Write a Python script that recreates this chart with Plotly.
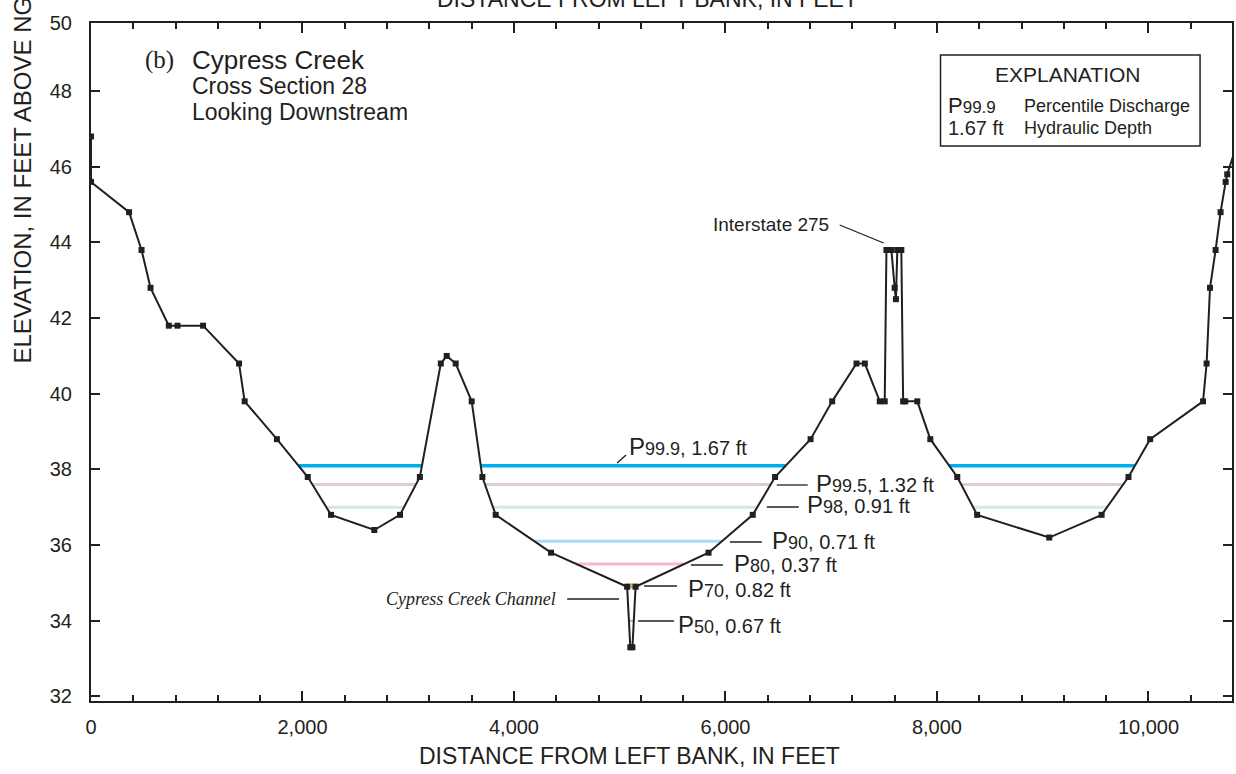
import numpy as np
import plotly.graph_objects as go

# ---------------- data ----------------
dist_ft = [0, 0, 360, 478, 563, 736, 818, 1060, 1400, 1453, 1758, 2050, 2270, 2679, 2922,
           3110, 3308, 3364, 3449, 3600, 3701, 3827, 4350, 5070, 5100, 5120, 5150, 5840,
           6258, 6469, 6805, 7009, 7239, 7318, 7459, 7506, 7522, 7569, 7600, 7612, 7625,
           7663, 7680, 7700, 7814, 7937, 8192, 8380, 9062, 9557, 9811, 10016, 10516,
           10550, 10582, 10635, 10682, 10730, 10745, 10860]
elev_ft = [46.8, 45.6, 44.8, 43.8, 42.8, 41.8, 41.8, 41.8, 40.8, 39.8, 38.8, 37.8, 36.8, 36.4, 36.8,
           37.8, 40.8, 41.0, 40.8, 39.8, 37.8, 36.8, 35.8, 34.9, 33.3, 33.3, 34.9, 35.8,
           36.8, 37.8, 38.8, 39.8, 40.8, 40.8, 39.8, 39.8, 43.8, 43.8, 42.8, 42.5, 43.8,
           43.8, 39.8, 39.8, 39.8, 38.8, 37.8, 36.8, 36.2, 36.8, 37.8, 38.8, 39.8,
           40.8, 42.8, 43.8, 44.8, 45.6, 45.8, 46.8]

percentiles = ["99.9", "99.5", "98", "90", "80", "70", "50"]
water_elev = [38.1, 37.6, 37.0, 36.1, 35.5, 34.92, 34.0]
hyd_depth = ["1.67", "1.32", "0.91", "0.71", "0.37", "0.82", "0.67"]

x_ticks = [0, 2000, 4000, 6000, 8000, 10000]
y_ticks = [32, 34, 36, 38, 40, 42, 44, 46, 48]

# ---------------- styles ----------------
water_colors = ["#00AEEF", "#DCCCD5", "#D2EADA", "#A9DDF2", "#F6B7CF", "#C8A96A", "#C2A8D6"]
water_widths = [3.5, 3, 3, 3, 3, 5, 2.5]
INK = "#231F20"
SANS = "Liberation Sans, Arial, Helvetica, sans-serif"
SERIF = "Liberation Serif, Times New Roman, serif"

X0, X1, Y0, Y1 = 91, 1234, 23, 701  # plot area in page pixels


def px(x):
    return (x - X0) / (X1 - X0)


def py(y):
    return (Y1 - y) / (Y1 - Y0)


def wet_spans(level):
    xs = np.array(dist_ft, float)
    ys = np.array(elev_ft, float)
    spans, start = [], None
    for i in range(len(xs) - 1):
        a, b = ys[i] - level, ys[i + 1] - level
        if a >= 0 and b < 0:
            start = xs[i] + (xs[i + 1] - xs[i]) * a / (a - b)
        elif a < 0 and b >= 0 and start is not None:
            end = xs[i] + (xs[i + 1] - xs[i]) * a / (a - b)
            spans.append((start, end))
            start = None
    return spans


fig = go.Figure()

for lev, col, w in zip(water_elev, water_colors, water_widths):
    wx, wy = [], []
    for s, e in wet_spans(lev):
        wx += [s, e, None]
        wy += [lev, lev, None]
    fig.add_trace(go.Scatter(x=wx, y=wy, mode="lines", line=dict(color=col, width=w),
                             hoverinfo="skip", showlegend=False))

fig.add_trace(go.Scatter(x=dist_ft, y=elev_ft, mode="lines+markers",
                         line=dict(color=INK, width=2),
                         marker=dict(symbol="square", size=6, color=INK),
                         showlegend=False, cliponaxis=True))

ann = []


def text(x, y, t, size, xanchor="left", family=SANS, yanchor="middle", **kw):
    ann.append(dict(x=px(x), y=py(y), xref="paper", yref="paper", text=t, showarrow=False,
                    xanchor=xanchor, yanchor=yanchor,
                    font=dict(family=family, size=size, color=INK), **kw))


def plabel(p, d=None, big=24, small=18):
    s = (f"<span style='font-size:{big}px'>P</span>"
         f"<span style='font-size:{small}px'>{p}</span>")
    if d is not None:
        s += f", {d} ft"
    return s


# percentile labels (left x, center y)
label_pos = [(628, 447), (815, 483), (806, 505), (771, 540), (733, 563), (687, 588), (677, 624)]
leaders = [((618, 463), (627, 455)), ((778, 485), (809, 485)), ((768, 507), (800, 507)),
           ((731, 542), (763, 542)), ((692, 565), (724, 565)), ((645, 586), (678, 586)),
           ((639, 621), (675, 621))]
for (lx, ly), p, d in zip(label_pos, percentiles, hyd_depth):
    text(lx, ly, plabel(p, d), 20)

shapes = []
for (a, b) in leaders + [((568, 599), (620, 599)), ((841, 225), (885, 243))]:
    shapes.append(dict(type="line", xref="paper", yref="paper", x0=px(a[0]), y0=py(a[1]),
                       x1=px(b[0]), y1=py(b[1]), line=dict(color=INK, width=1.3)))

text(559, 599, "<i>Cypress Creek Channel</i>", 18, xanchor="right", family=SERIF)
text(832, 224, "Interstate 275", 19, xanchor="right")

# title block
text(143, 60, "(b)", 25, family=SERIF)
text(190, 60, "Cypress Creek", 26)
text(190, 86, "Cross Section 28", 23)
text(190, 112, "Looking Downstream", 23)

# explanation box
shapes.append(dict(type="rect", xref="paper", yref="paper", x0=px(942), y0=py(55),
                   x1=px(1202), y1=py(146), line=dict(color=INK, width=1.5),
                   fillcolor="rgba(0,0,0,0)"))
text(1069, 75, "EXPLANATION", 21, xanchor="center")
text(947, 105, plabel(percentiles[0], None, 22, 17), 19)
text(1024, 106, "Percentile Discharge", 18)
text(947, 128, f"{hyd_depth[0]} ft", 20)
text(1024, 128, "Hydraulic Depth", 18)

# axis titles
text(22, 366, "ELEVATION, IN FEET ABOVE NGVD 29", 24, xanchor="center", yanchor="bottom",
     textangle=-90)
text(630, 756, "DISTANCE FROM LEFT BANK, IN FEET", 23, xanchor="center")
text(648, -1, "DISTANCE FROM LEFT BANK, IN FEET", 23, xanchor="center")

fig.update_layout(
    width=1236, height=774,
    margin=dict(l=X0, r=1236 - X1, t=Y0, b=774 - Y1, pad=0),
    paper_bgcolor="white", plot_bgcolor="white",
    annotations=ann, shapes=shapes, showlegend=False,
    font=dict(family=SANS, color=INK),
    xaxis=dict(range=[0, 10790], tickmode="array", tickvals=x_ticks,
               ticktext=[f"{v:,}" for v in x_ticks],
               ticks="inside", ticklen=10, tickwidth=1.5, tickcolor=INK,
               minor=dict(tickmode="linear", tick0=0, dtick=400, ticks="inside",
                          ticklen=6, tickwidth=1.5, tickcolor=INK, showgrid=False),
               showline=True, linecolor=INK, linewidth=2, mirror="allticks",
               showgrid=False, zeroline=False, ticklabelstandoff=7,
               tickfont=dict(family=SANS, size=20, color=INK)),
    yaxis=dict(range=[31.88, 49.8], tickmode="array", tickvals=y_ticks + [49.8],
               ticktext=[str(v) for v in y_ticks] + ["50"],
               ticks="inside", ticklen=9, tickwidth=1.5, tickcolor=INK,
               showline=True, linecolor=INK, linewidth=2, mirror="allticks",
               showgrid=False, zeroline=False, ticklabelstandoff=13,
               tickfont=dict(family=SANS, size=20, color=INK)),
)

fig.write_html("out.html", config={"displayModeBar": False},
               post_script="document.body.style.margin='0';")
